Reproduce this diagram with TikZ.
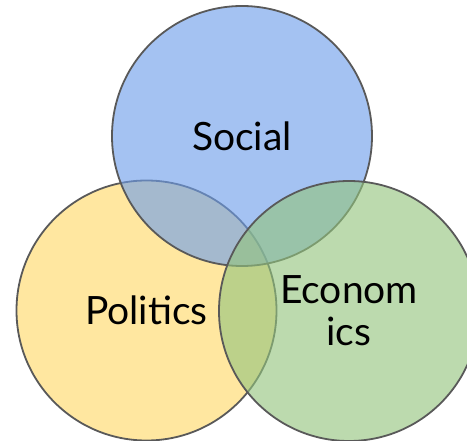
\documentclass[tikz,border=0pt]{standalone}
\usepackage{fontspec}
\setmainfont{Lato}
\definecolor{socialblue}{HTML}{6D9EEB}
\definecolor{politicsyellow}{HTML}{FFD966}
\definecolor{econgreen}{HTML}{93C47D}
\definecolor{ringgray}{HTML}{595959}
\begin{document}
\begin{tikzpicture}[x=1pt,y=-1pt,
  venn/.style={circle, minimum size=260pt, inner sep=0pt, draw=ringgray,
    line width=1.8pt, fill opacity=0.62, text opacity=1, align=center,
    font=\fontsize{39}{42}\selectfont}]
  \useasboundingbox (0,0) rectangle (467,441);
  \fill[white] (0,0) rectangle (467,441);
  % three overlapping sets, drawn bottom to top
  \node[venn, fill=politicsyellow] (politics) at (146.5,310.5) {Politics};
  \node[venn, fill=socialblue] (social) at (242,136) {Social};
  \node[venn, fill=econgreen] (economics) at (349,311) {Econom\\ics};
\end{tikzpicture}
\end{document}
